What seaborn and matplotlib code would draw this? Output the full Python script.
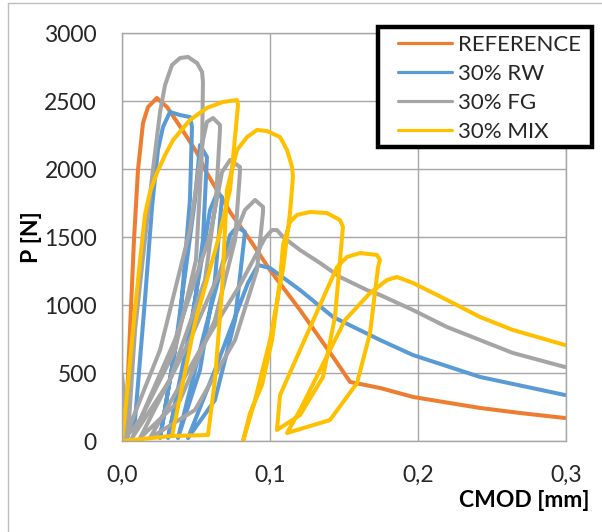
import matplotlib
matplotlib.use("Agg")
import matplotlib.pyplot as plt
import seaborn as sns
import pandas as pd
from matplotlib.lines import Line2D
from matplotlib.patches import Rectangle

# ---------------- data ----------------
series_names = ["REFERENCE", "30% RW", "30% FG", "30% MIX"]
series_colors = ["#ED7D31", "#5B9BD5", "#A5A5A5", "#FFC000"]

x_ticks = [0.0, 0.1, 0.2, 0.3]
x_tick_labels = ["0,0", "0,1", "0,2", "0,3"]
y_ticks = [0, 500, 1000, 1500, 2000, 2500, 3000]
y_tick_labels = ["0", "500", "1000", "1500", "2000", "2500", "3000"]

ref_cmod = [0, 0.0027, 0.0054, 0.0081, 0.0108, 0.0142, 0.0176, 0.0236, 0.0304, 0.0372,
            0.0439, 0.0507, 0.0561, 0.0730, 0.0865, 0.1000, 0.1203, 0.1426, 0.1541,
            0.1743, 0.1966, 0.2216, 0.2419, 0.2689, 0.2993]
ref_p = [0, 154, 816, 1478, 1993, 2338, 2456, 2522, 2456, 2346,
         2235, 2118, 1993, 1684, 1478, 1257, 963, 618, 434,
         390, 324, 279, 243, 206, 169]

rw_cmod = [0, 0.0088, 0.0155, 0.0203, 0.0243, 0.0277, 0.0324, 0.0392, 0.0459, 0.0473,
           0.0459, 0.0392, 0.0257,
           0.0358, 0.0493, 0.0527, 0.0574,
           0.0547, 0.0459, 0.0311,
           0.0459, 0.0595, 0.0642, 0.0676,
           0.0628, 0.0527, 0.0378,
           0.0561, 0.0730, 0.0777, 0.0831,
           0.0764, 0.0628, 0.0446,
           0.0628, 0.0851, 0.0919, 0.1000,
           0.1203, 0.1426, 0.1743, 0.1966, 0.2419, 0.2993]
rw_p = [0, 154, 1037, 1721, 2140, 2309, 2419, 2397, 2382, 2309,
        1772, 890, 22,
        669, 1772, 2176, 2088,
        1478, 743, 22,
        816, 1699, 1824, 1794,
        1184, 522, 22,
        816, 1515, 1574, 1537,
        890, 301, 22,
        522, 1162, 1294, 1272,
        1110, 912, 743, 632, 471, 338]

fg_cmod = [0, 0.0040, 0.0088, 0.0155, 0.0209, 0.0257, 0.0291, 0.0338, 0.0392, 0.0446, 0.0507, 0.0541,
           0.0547, 0.0541, 0.0500, 0.0358, 0.0122, 0.0020,
           0.0257, 0.0459, 0.0547, 0.0574, 0.0615, 0.0662,
           0.0662, 0.0635, 0.0561, 0.0324, 0.0068,
           0.0358, 0.0595, 0.0676, 0.0730, 0.0797,
           0.0797, 0.0764, 0.0628, 0.0392, 0.0122,
           0.0459, 0.0696, 0.0831, 0.0899, 0.0953,
           0.0953, 0.0912, 0.0764, 0.0493, 0.0189,
           0.0527, 0.0797, 0.0966, 0.1014, 0.1047,
           0.1088, 0.1203, 0.1338, 0.1473, 0.1655, 0.1743, 0.1966, 0.2196, 0.2642, 0.2993]
fg_p = [490, 30, 816, 1478, 1993, 2419, 2618, 2765, 2816, 2824, 2779, 2713,
        2640, 2140, 1331, 669, 154, 22,
        669, 1551, 2213, 2346, 2375, 2324,
        2287, 1772, 1184, 449, 22,
        743, 1515, 1978, 2066, 2015,
        1978, 1478, 890, 301, 22,
        743, 1331, 1699, 1772, 1721,
        1684, 1257, 743, 228, 22,
        669, 1147, 1493, 1551, 1551,
        1500, 1404, 1309, 1206, 1110, 1074, 963, 838, 647, 544]

mix_cmod = [0.0338, 0,
            0.0020, 0.0074, 0.0122, 0.0155, 0.0189, 0.0236, 0.0291, 0.0345, 0.0459, 0.0574, 0.0682, 0.0777,
            0.0784, 0.0730, 0.0649, 0.0493, 0.0338,
            0.0581,
            0.0628, 0.0676, 0.0709, 0.0777, 0.0845, 0.0912, 0.0980, 0.1068, 0.1115, 0.1149,
            0.1155, 0.1135, 0.1088, 0.1000, 0.0899, 0.0818,
            0.0865, 0.0946, 0.1014, 0.1068, 0.1088, 0.1135, 0.1182, 0.1270, 0.1385, 0.1473,
            0.1493, 0.1439, 0.1358, 0.1203, 0.1047,
            0.1068, 0.1203, 0.1338, 0.1453, 0.1520, 0.1608, 0.1723, 0.1743,
            0.1730, 0.1676, 0.1588, 0.1405, 0.1115,
            0.1203, 0.1338, 0.1507, 0.1676, 0.1791, 0.1858, 0.1966, 0.2196, 0.2419, 0.2642, 0.2993]
mix_p = [37, 0,
         191, 816, 1331, 1662, 1831, 1971, 2103, 2213, 2360, 2449, 2493, 2507,
         2471, 1846, 1478, 868, 37,
         44,
         449, 1110, 1846, 2140, 2235, 2287, 2279, 2235, 2140, 2015,
         1941, 1676, 1265, 743, 301, 0,
         206, 412, 743, 1184, 1441, 1610, 1662, 1684, 1676, 1625,
         1574, 912, 471, 191, 81,
         338, 669, 1000, 1279, 1353, 1382, 1368, 1331,
         1279, 794, 426, 154, 59,
         228, 522, 890, 1088, 1184, 1206, 1162, 1037, 912, 816, 706]

frames = []
for name, xs, ys in zip(series_names,
                        [ref_cmod, rw_cmod, fg_cmod, mix_cmod],
                        [ref_p, rw_p, fg_p, mix_p]):
    frames.append(pd.DataFrame({"CMOD": xs, "P": ys, "series": name}))
df = pd.concat(frames, ignore_index=True)

# ---------------- style ----------------
sns.set_style("white")
plt.rcParams["font.family"] = ["Lato", "DejaVu Sans"]

W, H = 602, 532
fig = plt.figure(figsize=(W / 100, H / 100), dpi=100)
ax = fig.add_axes([122 / W, 1 - 441 / H, 444 / W, 408 / H])

sns.lineplot(data=df, x="CMOD", y="P", hue="series", hue_order=series_names,
             palette=series_colors, sort=False, estimator=None, linewidth=2.9,
             ax=ax, legend=True)
for ln in ax.lines:
    ln.set_solid_joinstyle("round")
    ln.set_solid_capstyle("round")

grid_col = "#A6A6A6"
ax.set_xlim(0, 0.3)
ax.set_ylim(0, 3000)
ax.set_xticks(x_ticks)
ax.set_xticklabels(x_tick_labels)
ax.set_yticks(y_ticks)
ax.set_yticklabels(y_tick_labels)
ax.grid(True, color=grid_col, linewidth=1.0)
ax.set_axisbelow(True)
for s in ax.spines.values():
    s.set_color(grid_col)
    s.set_linewidth(1.0)
ax.tick_params(axis="both", length=0, labelsize=16.5, colors="#262626")
ax.tick_params(axis="x", pad=17)
ax.tick_params(axis="y", pad=18)

ax.set_xlabel("CMOD [mm]", fontsize=16.5, fontweight="bold", color="black", loc="right")
ax.xaxis.set_label_coords(1.054, -0.12)
ax.set_ylabel("P [N]", fontsize=16.5, fontweight="bold", color="black")
ax.yaxis.set_label_coords(-0.18, 0.5)

# legend: white box with thick black frame, entries placed inside
handles, labels = ax.get_legend_handles_labels()
if ax.get_legend() is not None:
    ax.get_legend().remove()

box = Rectangle((378 / W, 1 - 147 / H), 214 / W, 120 / H, transform=fig.transFigure,
                facecolor="white", edgecolor="black", linewidth=3.2, zorder=10,
                clip_on=False)
fig.add_artist(box)

fs = 16
leg = fig.legend(handles, labels, loc="upper left",
                 bbox_to_anchor=(398 / W, 1 - 35 / H), bbox_transform=fig.transFigure,
                 frameon=False, fontsize=fs, handlelength=54 / (fs * 100 / 72),
                 handletextpad=6 / (fs * 100 / 72), labelspacing=0.4,
                 borderpad=0, borderaxespad=0)
leg.set_zorder(11)
for ln in leg.get_lines():
    ln.set_linewidth(2.3)

# outer chart border (Excel chart area)
border_col = "#BFBFBF"
fig.add_artist(Line2D([8 / W, 8 / W], [0, 1 - 3 / H], transform=fig.transFigure,
                      color=border_col, linewidth=1.0))
fig.add_artist(Line2D([8 / W, 1], [1 - 3 / H, 1 - 3 / H], transform=fig.transFigure,
                      color=border_col, linewidth=1.0))

fig.savefig("out.png", dpi=100)
